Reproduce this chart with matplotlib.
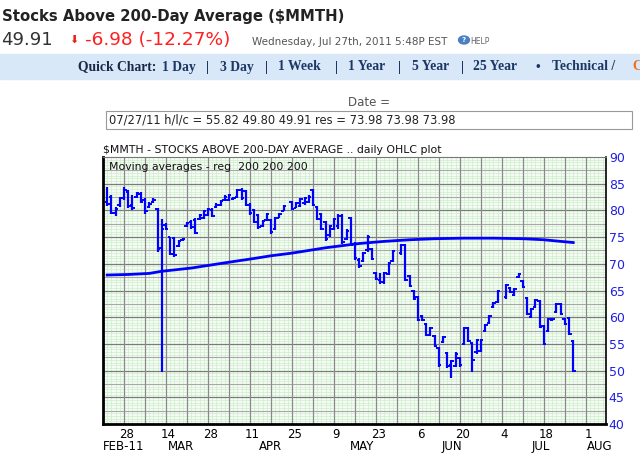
import numpy as np
import pandas as pd
import matplotlib
matplotlib.use('Agg')
import matplotlib.pyplot as plt
from matplotlib.patches import Rectangle

# trading days 22 Feb - 27 Jul 2011 (holidays left out of the data)
holidays = ['2011-04-22', '2011-05-30', '2011-07-04']
days = pd.bdate_range('2011-02-22', '2011-07-27')
days = days[~days.isin(pd.to_datetime(holidays))]

highs = [84.3, 82.9, 80.7, 82.6, 84.4, 83.8, 82.9, 83.5, 83.5, 82.3, 81.6, 82.3, 80.4, 78.3,
         77.6, 75.1, 75.1, 74.5, 74.9, 77.9, 78.2, 78.5, 79.3, 80.1, 80.4, 80.4, 81.3, 82.0,
         82.8, 83.0, 82.5, 84.0, 84.2, 83.8, 81.3, 80.2, 79.4, 78.2, 79.5, 78.4, 78.8, 79.5,
         81.0, 81.8, 81.6, 82.3, 82.6, 82.8, 84.0, 80.9, 79.5, 78.0, 77.3, 78.5, 79.3, 79.3,
         76.5, 78.8, 74.1, 71.0, 72.3, 75.4, 72.9, 68.5, 68.2, 68.5, 70.4, 72.6, 73.8, 73.8,
         67.9, 65.1, 63.9, 60.4, 58.9, 58.2, 56.7, 54.5, 56.4, 53.5, 52.0, 53.5, 52.6, 58.2,
         58.2, 55.4, 56.0, 56.0, 58.8, 60.4, 62.9, 65.1, 66.3, 65.7, 65.5, 68.2, 67.0, 63.8,
         61.7, 63.5, 63.2, 58.5, 59.8, 59.8, 62.6, 62.6, 59.8, 60.1, 55.82]
lows = [80.9, 79.3, 79.0, 80.7, 82.0, 80.4, 80.1, 82.3, 81.3, 79.4, 80.4, 81.3, 72.3, 49.8,
        76.3, 71.6, 71.3, 73.2, 74.3, 76.9, 76.6, 75.5, 78.2, 78.4, 79.0, 78.8, 80.4, 80.9,
        81.8, 81.8, 81.9, 82.3, 82.0, 80.8, 79.2, 77.6, 76.6, 76.9, 78.0, 75.6, 76.3, 78.5,
        79.8, 80.1, 80.4, 80.7, 81.1, 81.3, 80.8, 78.2, 76.3, 74.3, 75.1, 76.3, 76.6, 73.8,
        74.5, 73.3, 70.7, 69.2, 70.4, 72.3, 70.7, 67.0, 66.3, 66.3, 67.9, 70.4, 71.7, 66.7,
        65.7, 63.2, 59.2, 59.2, 56.4, 56.4, 54.5, 50.7, 55.1, 50.5, 48.6, 50.7, 50.7, 54.8,
        55.4, 49.8, 53.2, 53.5, 57.3, 58.8, 61.7, 62.6, 63.5, 64.5, 64.0, 67.3, 65.4, 60.4,
        59.8, 61.7, 57.9, 54.8, 57.3, 59.2, 60.7, 60.4, 58.5, 56.7, 49.80]
opens = [81.5, 82.5, 79.5, 81.0, 82.4, 83.5, 81.0, 82.5, 83.0, 82.0, 80.6, 81.5, 80.2, 73.0,
         77.2, 75.0, 74.8, 73.4, 74.4, 77.0, 77.8, 78.2, 78.4, 78.6, 79.2, 80.1, 80.6, 81.1,
         81.9, 82.0, 82.1, 82.5, 83.9, 83.6, 81.1, 80.0, 79.2, 77.1, 78.2, 78.2, 76.5, 78.6,
         79.9, 81.6, 80.5, 80.9, 81.3, 81.5, 83.8, 80.7, 79.3, 77.8, 75.3, 76.5, 77.0, 79.0,
         74.7, 78.5, 73.8, 70.8, 70.6, 72.5, 72.7, 68.3, 67.0, 66.5, 68.0, 70.6, 72.0, 73.6,
         67.7, 64.9, 63.7, 60.2, 58.7, 56.6, 56.5, 54.3, 55.3, 53.3, 51.0, 50.9, 52.4, 55.0,
         58.0, 55.2, 53.4, 53.7, 57.5, 59.0, 61.9, 62.8, 63.7, 65.5, 64.2, 67.5, 66.8, 63.6,
         60.0, 61.9, 63.0, 58.3, 57.5, 59.4, 60.9, 62.4, 59.6, 59.9, 55.6]
closes = [81.2, 79.6, 80.3, 82.3, 83.8, 80.8, 80.5, 83.2, 81.6, 79.8, 81.2, 82.0, 72.8, 76.5,
          76.6, 71.9, 71.6, 74.2, 74.7, 77.7, 76.9, 75.8, 79.1, 79.8, 80.2, 79.0, 81.1, 81.8,
          82.6, 82.8, 82.3, 83.8, 82.3, 81.0, 79.5, 77.9, 76.9, 78.0, 79.3, 75.9, 78.6, 79.3,
          80.8, 80.3, 81.4, 82.1, 82.4, 82.6, 81.0, 78.4, 76.5, 74.6, 77.0, 78.3, 79.0, 74.1,
          76.2, 73.6, 71.0, 69.5, 72.0, 75.0, 70.9, 67.2, 66.5, 68.2, 70.2, 72.4, 73.6, 66.9,
          65.9, 63.4, 59.5, 59.4, 56.6, 58.0, 54.7, 51.0, 56.2, 50.8, 51.8, 53.2, 51.0, 58.0,
          55.6, 52.0, 55.8, 55.8, 58.6, 60.2, 62.7, 64.9, 66.0, 64.7, 65.3, 68.0, 65.6, 60.6,
          61.5, 63.3, 58.1, 55.0, 59.6, 59.6, 62.4, 60.6, 58.7, 56.9, 49.91]

# 200-day moving average read at a few dates
ma_dates = ['2011-02-22', '2011-03-01', '2011-03-08', '2011-03-11', '2011-03-22', '2011-04-04',
            '2011-04-12', '2011-04-18', '2011-04-25', '2011-04-29', '2011-05-05', '2011-05-12',
            '2011-05-17', '2011-05-25', '2011-06-02', '2011-06-10', '2011-06-21', '2011-06-30',
            '2011-07-11', '2011-07-18', '2011-07-22', '2011-07-27']
ma_vals = [67.9, 68.0, 68.2, 68.6, 69.2, 70.3, 71.0, 71.5, 72.0, 72.5, 73.0, 73.5,
           73.8, 74.2, 74.5, 74.7, 74.8, 74.8, 74.7, 74.5, 74.2, 73.98]

tick_dates = pd.date_range('2011-02-28', '2011-08-01', freq='14D')
week_dates = pd.date_range('2011-02-21', '2011-08-08', freq='7D')
month_labels = ['FEB-11', 'MAR', 'APR', 'MAY', 'JUN', 'JUL', 'AUG']
month_pos = [3.8, 17.6, 39.0, 60.7, 82.1, 103.3, 117.4]

# quick chart menu row: text and left edge (px)
menu_items = ['Quick Chart:', '1 Day', '|', '3 Day', '|', '1 Week', '|', '1 Year', '|', '5 Year',
              '|', '25 Year', u'\u2022', 'Technical /', 'C']
menu_x = [78, 162, 206, 220, 265, 278, 335, 348, 398, 412, 461, 473, 536, 552, 632]

start = np.datetime64('2011-02-22')
def bidx(d):
    return np.busday_count(start, np.array(pd.to_datetime(d), dtype='datetime64[D]'))

W, H = 640, 470
fig = plt.figure(figsize=(6.4, 4.7), dpi=100)

def fx(x):
    return x / W
def fy(y):
    return 1 - y / H

# page header
fig.text(fx(2), fy(17), 'Stocks Above 200-Day Average ($MMTH)', fontsize=10.7,
         fontweight='bold', color='#222222', va='center', family='DejaVu Sans')
fig.text(fx(1), fy(40), '49.91', fontsize=13, color='#333333', va='center', family='DejaVu Sans')
fig.text(fx(69), fy(40), u'\u2B07', fontsize=8, color='#e8201c', va='center', family='DejaVu Sans')
fig.text(fx(85), fy(40), '-6.98 (-12.27%)', fontsize=13.3, color='#ff2020', va='center',
         family='DejaVu Sans')
fig.text(fx(252), fy(42), 'Wednesday, Jul 27th, 2011 5:48P EST', fontsize=7.5, color='#555555',
         va='center', family='DejaVu Sans Condensed')
fig.patches.append(matplotlib.patches.Circle((fx(464), fy(40)), 0.0085, color='#4a7fc0',
                                             transform=fig.transFigure, figure=fig))
fig.text(fx(464), fy(40.5), '?', fontsize=5, color='white', ha='center', va='center',
         fontweight='bold')
fig.text(fx(470), fy(41), 'HELP', fontsize=5.5, color='#666666', va='center')

fig.patches.append(Rectangle((0, fy(79)), 1, (79 - 54) / H, color='#d9e8f8',
                             transform=fig.transFigure, figure=fig, zorder=0))
for item, xp in zip(menu_items, menu_x):
    col = '#f07020' if item == 'C' else ('#1a2848' if item.startswith('Quick') else '#1c3765')
    fig.text(fx(xp), fy(67), item, fontsize=9.8, fontweight='bold', color=col, va='center',
             family=['Liberation Serif', 'DejaVu Serif'])

fig.text(fx(369), fy(103), 'Date =', fontsize=8.5, color='#555555', ha='center', va='center')
fig.patches.append(Rectangle((fx(106), fy(129)), fx(632 - 106), (129 - 111) / H, fill=False,
                             edgecolor='#999999', lw=0.8, transform=fig.transFigure, figure=fig))
fig.text(fx(109), fy(120), '07/27/11 h/l/c = 55.82 49.80 49.91 res = 73.98 73.98 73.98',
         fontsize=8.3, color='#222222', va='center', family='DejaVu Sans Condensed')

fig.text(fx(103), fy(150), r'\$MMTH - STOCKS ABOVE 200-DAY AVERAGE .. daily OHLC plot',
         fontsize=7.8, color='#111111', va='center', family='DejaVu Sans Condensed')

# chart
ax = fig.add_axes([fx(103), fy(424), fx(606 - 103), (424 - 157) / H])
ax.set_facecolor('#f6fcf5')

x = bidx(days)
ax.vlines(x, lows, highs, color='#0000ff', lw=1.6, zorder=4)
ax.hlines(opens, x - 0.6, x, color='#0000ff', lw=1.4, zorder=4)
ax.hlines(closes, x, x + 0.6, color='#0000ff', lw=1.4, zorder=4)
ax.plot(bidx(ma_dates), ma_vals, color='#0000ff', lw=2.0, zorder=4)

ax.set_xlim(-1, 118.8)
ax.set_ylim(40, 90)

# grid: fine green mesh, grey weekly / 5-point lines
for v in np.arange(-1, 119, 1):
    ax.axvline(v, color='#cdeeca', lw=0.5, zorder=1)
for v in np.arange(40, 90, 0.5):
    ax.axhline(v, color='#cdeeca', lw=0.5, zorder=1)
for v in np.arange(42.5, 90, 5):
    ax.axhline(v, color='#a8a8a8', lw=0.8, zorder=2)
for v in np.arange(45, 90, 5):
    ax.axhline(v, color='#7a7a7a', lw=0.9, zorder=2)
for d in week_dates:
    ax.axvline(bidx(d), color='#8a8a8a', lw=0.9, zorder=2)

ax.yaxis.tick_right()
ax.set_yticks(np.arange(40, 91, 5))
ax.tick_params(axis='y', length=0, labelsize=9, labelcolor='#2020e0', pad=2)
ax.set_xticks(bidx(tick_dates) + 0.6)
ax.set_xticklabels([str(d.day) for d in tick_dates])
ax.tick_params(axis='x', length=0, labelsize=8.5, pad=3)
for lab, pos in zip(month_labels, month_pos):
    ax.text(pos, -0.085, lab, transform=ax.get_xaxis_transform(), ha='center', va='center',
            fontsize=8.5, family='DejaVu Sans Condensed')

for s in ['left', 'bottom']:
    ax.spines[s].set_linewidth(2)
ax.spines['top'].set_color('#777777')
ax.spines['right'].set_linewidth(1.2)

ax.text(0.012, 0.983, 'Moving averages - reg  200 200 200', transform=ax.transAxes, fontsize=7.8,
        va='top', family='DejaVu Sans Condensed', color='#111111', zorder=5)

fig.savefig('out.png', dpi=100)
